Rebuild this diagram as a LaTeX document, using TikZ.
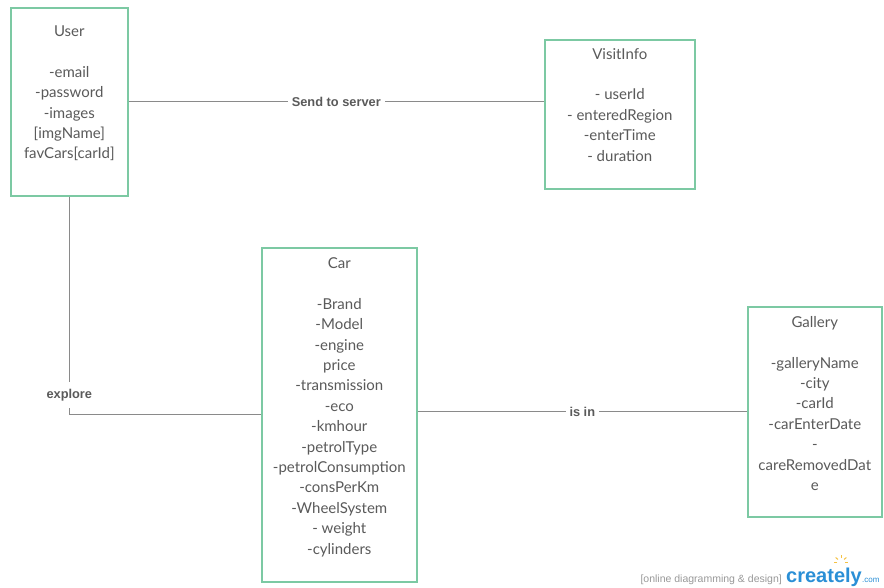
\documentclass[tikz,border=0pt]{standalone}
\usepackage{fontspec}
\setmainfont{Lato}
\newfontfamily\lblfont{Liberation Sans}
\usepackage{xcolor}
\usetikzlibrary{positioning}

\definecolor{boxgreen}{HTML}{7CC9A3}
\definecolor{txtgray}{HTML}{5A5A5A}
\definecolor{linegray}{HTML}{8A8A8A}
\definecolor{crblue}{HTML}{2A8FD6}
\definecolor{bulb}{HTML}{F5C242}

\begin{document}
\begin{tikzpicture}[
    x=1pt, y=-1pt,
    entity/.style={draw=boxgreen, line width=1.6pt, fill=white, anchor=north west, inner sep=0pt},
    fields/.style={align=center, inner sep=0pt, anchor=north, text=txtgray,
        font=\fontsize{15}{20.4}\selectfont},
    link/.style={draw=linegray, line width=1.3pt},
    lbl/.style={fill=white, text=txtgray, inner xsep=4pt, inner ysep=7pt,
        font=\lblfont\bfseries\fontsize{12.8}{14}\selectfont}
]
    \useasboundingbox[fill=white] (0,0) rectangle (884,588);

    % entity boxes
    \node[entity, minimum width=117pt, minimum height=188pt] (user) at (10,7) {};
    \node[entity, minimum width=150pt, minimum height=149pt] (visit) at (544,39) {};
    \node[entity, minimum width=155pt, minimum height=334pt] (car) at (261,247) {};
    \node[entity, minimum width=134pt, minimum height=210pt] (gallery) at (747,306) {};

    % entity contents
    \node[fields, below=18.5pt of user.north] (userf)
        {User\\[20.4pt]-email\\-password\\-images\\{[imgName]}\\favCars[carId]};
    \node[fields, below=9pt of visit.north] (visitf)
        {VisitInfo\\[20.4pt]- userId\\- enteredRegion\\-enterTime\\- duration};
    \node[fields, below=10.5pt of car.north] (carf)
        {Car\\[20.4pt]-Brand\\-Model\\-engine\\price\\-transmission\\-eco\\-kmhour\\-petrolType\\-petrolConsumption\\-consPerKm\\-WheelSystem\\- weight\\-cylinders};
    \node[fields, below=10pt of gallery.north] (galleryf)
        {Gallery\\[20.4pt]-galleryName\\-city\\-carId\\-carEnterDate\\-\\careRemovedDat\\e};

    % relations
    \draw[link] (user.east) -- node[lbl] {Send to server} (visit.west |- user.east);
    \draw[link] (user.south) |- node[lbl, pos=0.455] {explore} (car.west);
    \draw[link] (car.east |- gallery.west) -- node[lbl] {is in} (gallery.west);

    % footer
    \node[anchor=base east, inner sep=0pt, text=gray!80, font=\lblfont\fontsize{10.5}{12}\selectfont]
        (tag) at (782,582) {[online diagramming \& design]};
    \node[anchor=base west, inner sep=0pt, text=crblue, font=\lblfont\bfseries\fontsize{20}{22}\selectfont]
        (brand) at (786,582) {creately};
    \node[anchor=base west, inner sep=0pt, text=crblue, font=\lblfont\fontsize{8}{9}\selectfont]
        (dotcom) at (brand.base east) {.com};
    \coordinate (lamp) at (841,562);
    \foreach \a in {0,40,90,140,180}
        \draw[bulb, line width=1pt] ([shift={(\a:4pt)}]lamp) -- ([shift={(\a:7pt)}]lamp);
\end{tikzpicture}
\end{document}
